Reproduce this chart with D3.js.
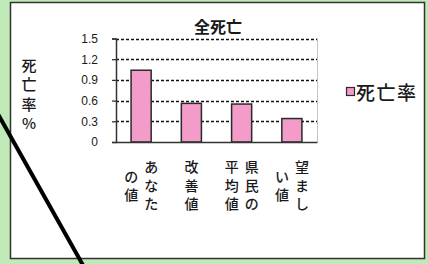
<!DOCTYPE html>
<meta charset="utf-8">
<style>
  body { margin: 0; background: #fff; }
  svg { display: block; }
  text { font-family: "Noto Sans CJK JP", sans-serif; fill: #1a1a1a; }
  .tick text { font-family: "Liberation Sans", Arial, sans-serif; font-size: 12px; fill: #1a1a1a; }
</style>
<svg width="428" height="264"></svg>
<script src="https://cdn.jsdelivr.net/npm/d3@7/dist/d3.min.js"></script>
<script>

var categories = ["あなたの値", "改善値", "県民の平均値", "望ましい値"];
var values = [1.04, 0.56, 0.55, 0.34];
var yTicks = [0, 0.3, 0.6, 0.9, 1.2, 1.5];
var seriesName = "死亡率";
var chartTitle = "全死亡";
var yLabel = "死亡率%";

var svg = d3.select("svg"),
    plot = {left: 116, right: 317, top: 38.5, bottom: 142};

/*
 * Frame: green page background, white panel with a dark edge.
 */
svg.append("rect")
    .attr("width", 428).attr("height", 264)
    .attr("fill", "#bfe9b6");

svg.append("rect")
    .attr("x", 10.5).attr("y", 2.5)
    .attr("width", 414).attr("height", 256)
    .attr("fill", "#fff")
    .attr("stroke", "#333")
    .attr("stroke-width", 1.5);

var x = d3.scaleBand()
    .domain(categories)
    .range([plot.left, plot.right])
    .paddingInner(0.6)
    .paddingOuter(0.3);

var y = d3.scaleLinear()
    .domain([0, 1.5])
    .range([plot.bottom, plot.top]);

var pink = "#f39bc9";

/*
 * Dashed gridlines and the dotted right edge of the plot.
 */
svg.append("g")
  .selectAll("line")
  .data(yTicks.filter(function(d) { return d > 0; }))
  .enter().append("line")
    .attr("x1", plot.left).attr("x2", plot.right)
    .attr("y1", function(d) { return Math.round(y(d)) + 0.5; })
    .attr("y2", function(d) { return Math.round(y(d)) + 0.5; })
    .attr("stroke", "#111")
    .attr("stroke-width", 1.3)
    .attr("stroke-dasharray", "3,2");

svg.append("line")
    .attr("x1", plot.right + 0.5).attr("x2", plot.right + 0.5)
    .attr("y1", y(1.5)).attr("y2", y(0))
    .attr("stroke", "#888")
    .attr("stroke-dasharray", "1,1");

/*
 * Bars.
 */
svg.append("g")
  .selectAll("rect")
  .data(values)
  .enter().append("rect")
    .attr("x", function(d, i) { return x(categories[i]); })
    .attr("y", function(d) { return y(d); })
    .attr("width", x.bandwidth())
    .attr("height", function(d) { return y(0) - y(d); })
    .attr("fill", pink)
    .attr("stroke", "#2a2a2a")
    .attr("stroke-width", 1.5);

/*
 * Axes.
 */
var yAxis = svg.append("g")
    .attr("transform", "translate(" + plot.left + ",0)")
    .call(d3.axisLeft(y)
      .tickValues(yTicks)
      .tickSize(4)
      .tickPadding(14)
      .tickFormat(function(d) { return d === 0 ? "0" : d3.format(".1f")(d); }));
yAxis.select(".domain").attr("stroke", "#333").attr("stroke-width", 1.5);
yAxis.selectAll(".tick line").attr("stroke", "#333").attr("stroke-width", 1.3);

var xAxis = svg.append("g")
    .attr("transform", "translate(0," + plot.bottom + ")")
    .call(d3.axisBottom(x).tickSize(0).tickFormat(""));
xAxis.select(".domain").attr("stroke", "#333").attr("stroke-width", 1.5);

/*
 * Category labels, set vertically in columns of three characters,
 * first column on the right.
 */
var charPitch = 18.5, colPitch = 20, labelTop = 157;

categories.forEach(function(name, i) {
  var cols = name.match(/.{1,3}/g),
      cx = x(name) + x.bandwidth() / 2,
      mid = labelTop + 1.5 * charPitch;
  cols.forEach(function(col, j) {
    var colX = cx + ((cols.length - 1) / 2 - j) * colPitch,
        start = mid - col.length * charPitch / 2;
    col.split("").forEach(function(ch, k) {
      svg.append("text")
          .attr("x", colX)
          .attr("y", start + (k + 0.5) * charPitch)
          .attr("text-anchor", "middle")
          .attr("dominant-baseline", "central")
          .attr("font-size", 14)
          .attr("font-weight", 500)
          .text(ch);
    });
  });
});

/*
 * Title, vertical y-axis label, legend.
 */
svg.append("text")
    .attr("x", (plot.left + plot.right) / 2 + 1.5)
    .attr("y", 33)
    .attr("text-anchor", "middle")
    .attr("font-size", 16)
    .attr("font-weight", "bold")
    .text(chartTitle);

yLabel.split("").forEach(function(ch, k) {
  svg.append("text")
      .attr("x", 29)
      .attr("y", 64 + k * 19.5)
      .attr("text-anchor", "middle")
      .attr("dominant-baseline", "central")
      .attr("font-size", 15)
      .attr("font-weight", 500)
      .text(ch);
});

svg.append("rect")
    .attr("x", 346.5).attr("y", 87.5)
    .attr("width", 8).attr("height", 8)
    .attr("fill", pink)
    .attr("stroke", "#2a2a2a")
    .attr("stroke-width", 1.2);

svg.append("text")
    .attr("x", 356)
    .attr("y", 91)
    .attr("dominant-baseline", "central")
    .attr("font-size", 19)
    .attr("font-weight", 500)
    .attr("letter-spacing", 1.5)
    .text(seriesName);

/*
 * Heavy black pointer line crossing the lower-left corner.
 */
svg.append("line")
    .attr("x1", -2).attr("y1", 114)
    .attr("x2", 84).attr("y2", 267)
    .attr("stroke", "#000")
    .attr("stroke-width", 4);

</script>
